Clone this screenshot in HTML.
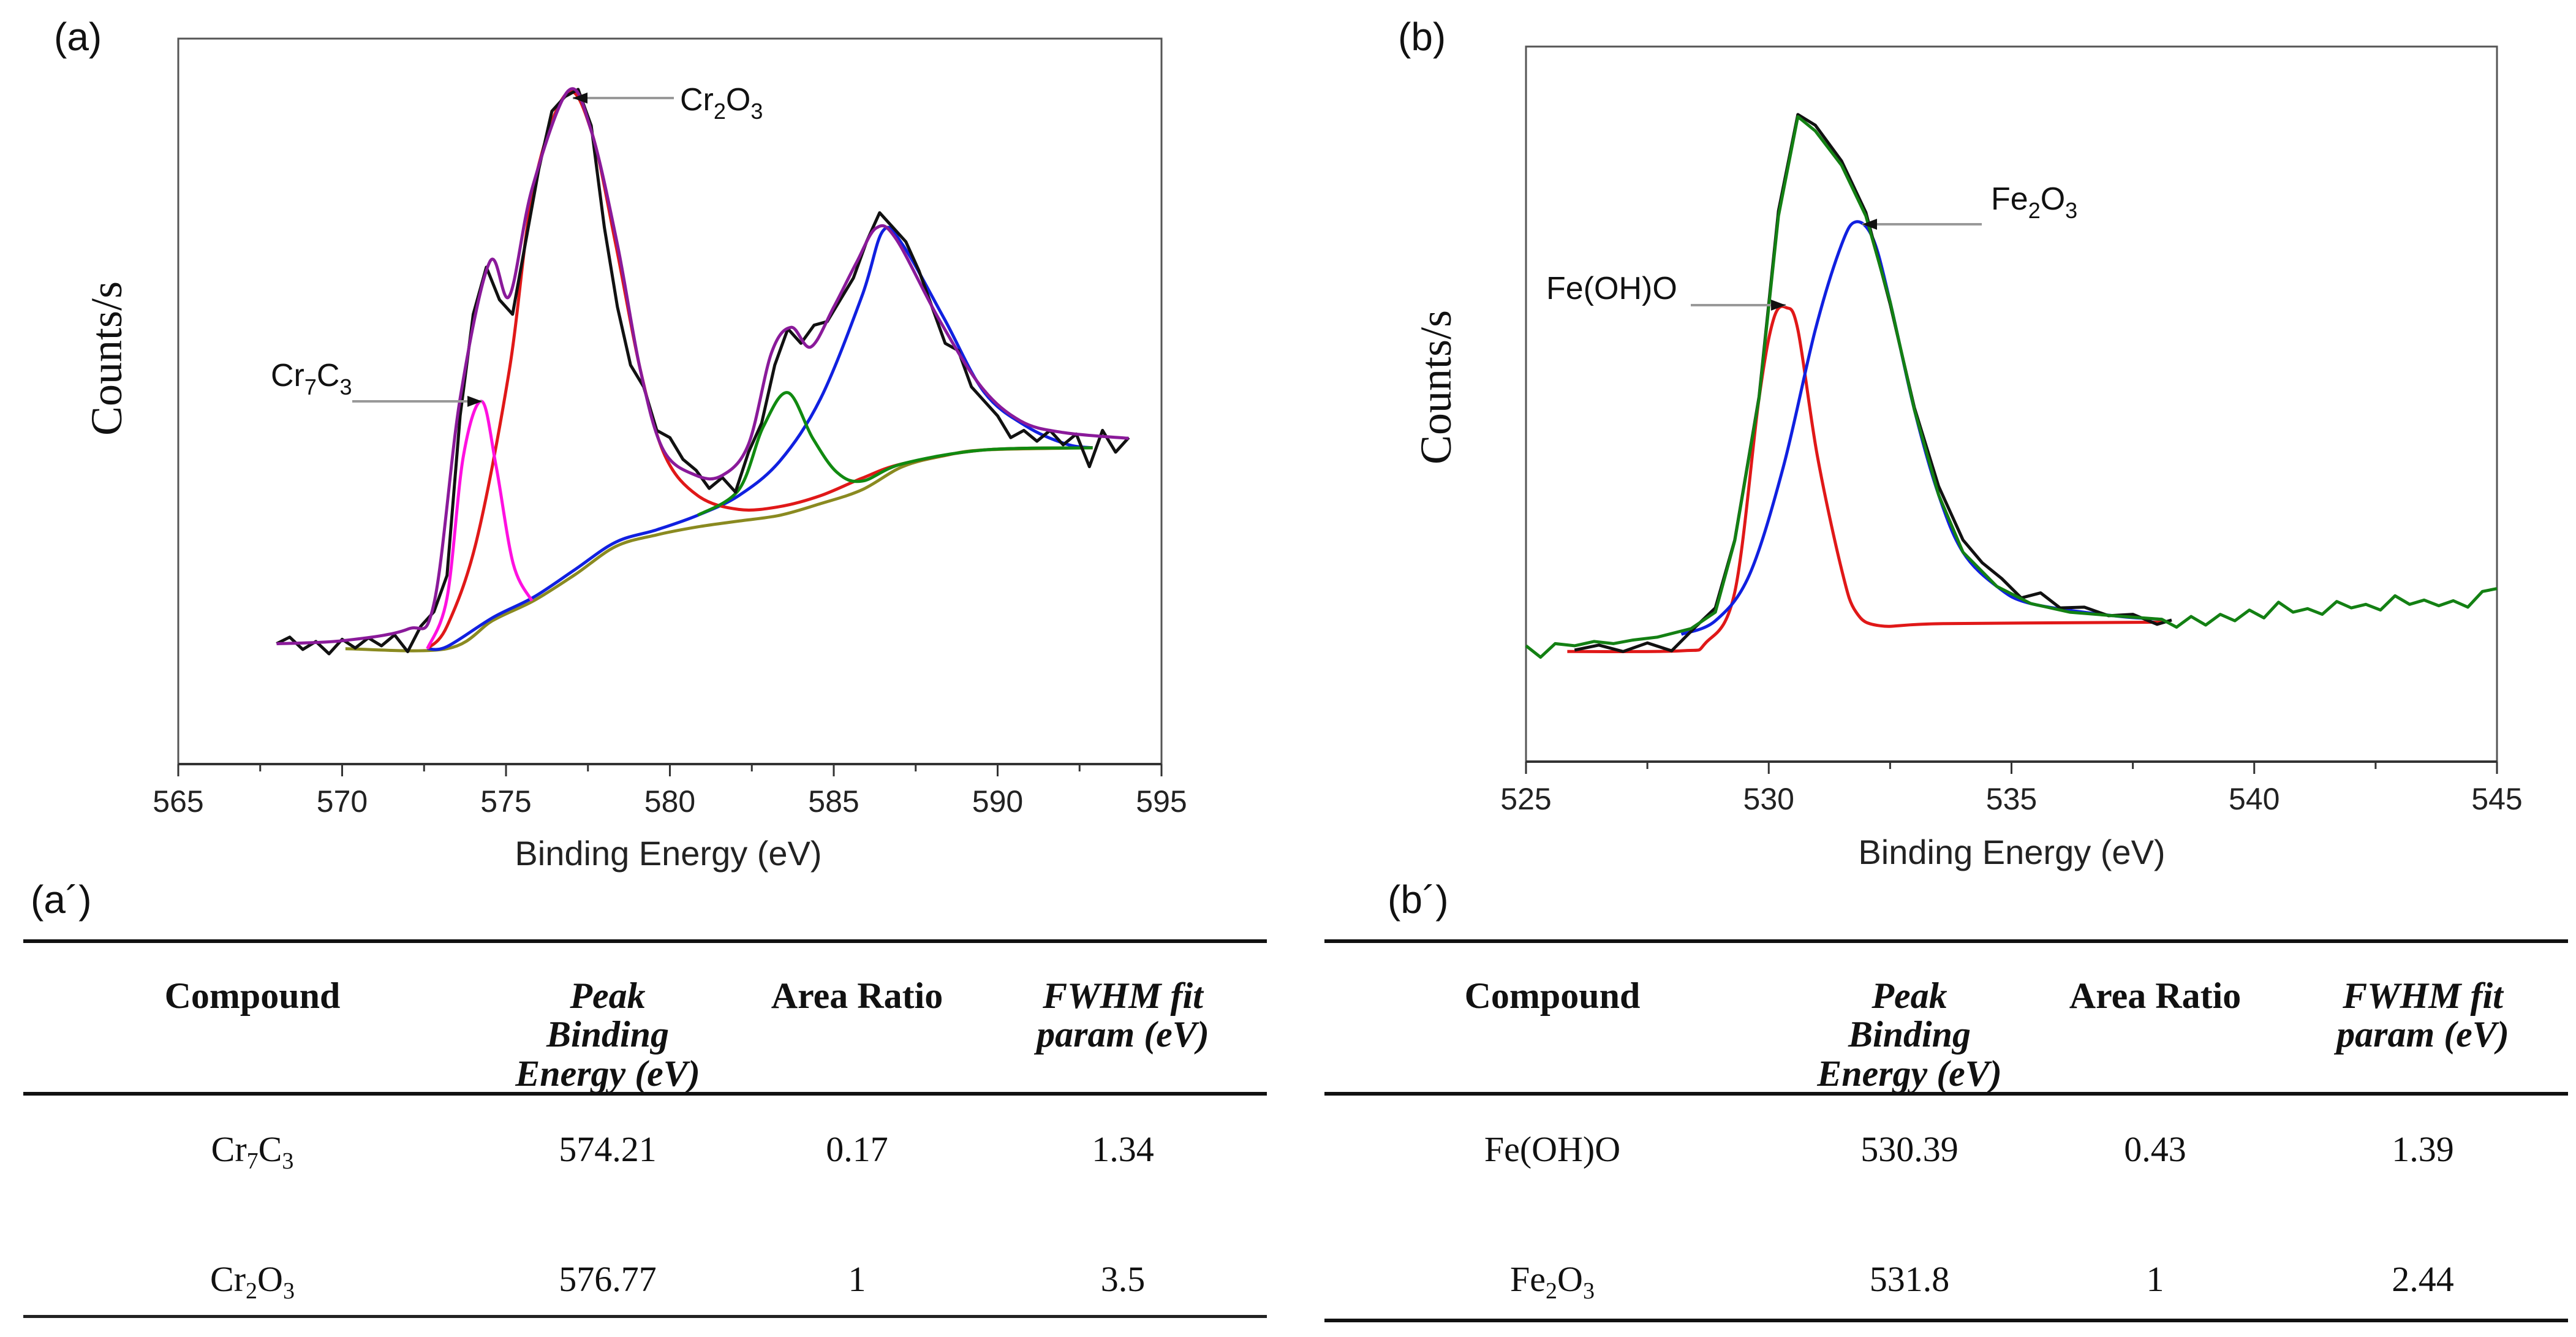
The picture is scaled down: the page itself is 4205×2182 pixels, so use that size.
<!DOCTYPE html>
<html><head><meta charset="utf-8"><style>
html,body{margin:0;padding:0;background:#fff}
svg{display:block}
.tk{font-family:"Liberation Sans",sans-serif;font-size:50px;fill:#222}
.ann{font-family:"Liberation Sans",sans-serif;font-size:52px;fill:#111}
.ttl{font-family:"Liberation Sans",sans-serif;font-size:56px;fill:#222}
.yt{font-family:"Liberation Serif",serif;font-size:72px;fill:#111}
.pl{font-family:"Liberation Sans",sans-serif;font-size:64px;fill:#111}
.th{font-family:"Liberation Serif",serif;font-size:60px;font-weight:bold;fill:#111}
.thi{font-family:"Liberation Serif",serif;font-size:60px;font-weight:bold;font-style:italic;fill:#111}
.td{font-family:"Liberation Serif",serif;font-size:58px;fill:#111}
</style></head><body>
<svg id="fig" width="4205" height="2182" viewBox="0 0 4205 2182" xmlns="http://www.w3.org/2000/svg">
<g id="chartA"></g>
<g id="chartB"></g>
<g id="tables">
 <text class="pl" x="50" y="1490">(a´)</text>
 <text class="pl" x="2265" y="1490">(b´)</text>
 <g>
  <rect x="38" y="1533" width="2030" height="6" fill="#111"/>
  <rect x="38" y="1782" width="2030" height="6" fill="#111"/>
  <rect x="38" y="2146" width="2030" height="5" fill="#222"/>
  <text class="th" x="412" y="1645" text-anchor="middle">Compound</text>
  <text class="thi" x="992" y="1645" text-anchor="middle">Peak</text>
  <text class="thi" x="992" y="1708" text-anchor="middle">Binding</text>
  <text class="thi" x="992" y="1772" text-anchor="middle">Energy (eV)</text>
  <text class="th" x="1399" y="1645" text-anchor="middle">Area Ratio</text>
  <text class="thi" x="1833" y="1645" text-anchor="middle">FWHM fit</text>
  <text class="thi" x="1833" y="1708" text-anchor="middle">param (eV)</text>
  <text class="td" x="412" y="1895" text-anchor="middle">Cr<tspan font-size="38" dy="12">7</tspan><tspan dy="-12">C</tspan><tspan font-size="38" dy="12">3</tspan></text>
  <text class="td" x="992" y="1895" text-anchor="middle">574.21</text>
  <text class="td" x="1399" y="1895" text-anchor="middle">0.17</text>
  <text class="td" x="1833" y="1895" text-anchor="middle">1.34</text>
  <text class="td" x="412" y="2107" text-anchor="middle">Cr<tspan font-size="38" dy="12">2</tspan><tspan dy="-12">O</tspan><tspan font-size="38" dy="12">3</tspan></text>
  <text class="td" x="992" y="2107" text-anchor="middle">576.77</text>
  <text class="td" x="1399" y="2107" text-anchor="middle">1</text>
  <text class="td" x="1833" y="2107" text-anchor="middle">3.5</text>
 </g>
 <g>
  <rect x="2162" y="1533" width="2030" height="6" fill="#111"/>
  <rect x="2162" y="1782" width="2030" height="6" fill="#111"/>
  <rect x="2162" y="2152" width="2030" height="6" fill="#111"/>
  <text class="th" x="2534" y="1645" text-anchor="middle">Compound</text>
  <text class="thi" x="3117" y="1645" text-anchor="middle">Peak</text>
  <text class="thi" x="3117" y="1708" text-anchor="middle">Binding</text>
  <text class="thi" x="3117" y="1772" text-anchor="middle">Energy (eV)</text>
  <text class="th" x="3518" y="1645" text-anchor="middle">Area Ratio</text>
  <text class="thi" x="3955" y="1645" text-anchor="middle">FWHM fit</text>
  <text class="thi" x="3955" y="1708" text-anchor="middle">param (eV)</text>
  <text class="td" x="2534" y="1895" text-anchor="middle">Fe(OH)O</text>
  <text class="td" x="3117" y="1895" text-anchor="middle">530.39</text>
  <text class="td" x="3518" y="1895" text-anchor="middle">0.43</text>
  <text class="td" x="3955" y="1895" text-anchor="middle">1.39</text>
  <text class="td" x="2534" y="2107" text-anchor="middle">Fe<tspan font-size="38" dy="12">2</tspan><tspan dy="-12">O</tspan><tspan font-size="38" dy="12">3</tspan></text>
  <text class="td" x="3117" y="2107" text-anchor="middle">531.8</text>
  <text class="td" x="3518" y="2107" text-anchor="middle">1</text>
  <text class="td" x="3955" y="2107" text-anchor="middle">2.44</text>
 </g>
</g>
</svg>
<script>
// ---------- Chart (a) data: Cr 2p ----------
const aTicks = [565,570,575,580,585,590,595];
const aRawX = [568,568.4,568.8,569.2,569.6,570,570.4,570.8,571.2,571.6,572,572.4,572.8,573.2,573.6,574,574.4,574.8,575.2,575.6,576,576.4,576.8,577.2,577.6,578,578.4,578.8,579.2,579.6,580,580.4,580.8,581.2,581.6,582,582.4,582.8,583.2,583.6,584,584.4,584.8,585.2,585.6,586,586.4,586.8,587.2,587.6,588,588.4,588.8,589.2,589.6,590,590.4,590.8,591.2,591.6,592,592.4,592.8,593.2,593.6,594];
const aRawY = [16.6,17.5,15.8,16.9,15.2,17.2,16.0,17.4,16.3,17.8,15.5,19.0,21.0,26,48,62,68.5,64,62,72,82,90,92,93,88,74,63,55,52,46,45,42,40.5,38,39.5,37.5,43,47,55,60,58,60.5,61,64,67,72,76,74,72,68,63,58,57,52,50,48,45,46,44.5,46,44,45.5,41,46,43,45];
const aEnvX = [568,570,572,572.8,573.6,574.5,575.1,575.8,576.9,577.6,578.4,579.1,579.8,580.8,581.6,582.4,583.1,583.7,584.3,585,585.7,586.3,586.9,588.2,589.5,590.7,592,594];
const aEnvY = [16.6,17,18.6,22.1,50.4,69.2,64.5,79.4,92.8,87.3,71.6,54.3,43.3,39.8,39.8,44.1,56.7,60.2,57.5,63,69.2,73.9,72.4,61.4,52,47.3,45.7,44.9];
const aBgX = [570.1,573.2,574.6,575.84,577.1,578.35,579.6,580.85,582.1,583.36,584.6,585.86,587.1,588.37,589.6,592.9];
const aBgY = [15.9,15.9,19.8,22.5,26.1,30,31.6,32.7,33.5,34.3,35.9,37.8,41,42.5,43.3,43.6];
const aBlueX = [572.6,573.2,574.6,575.84,577.1,578.35,579.6,580.85,582.1,583.36,584.6,585.86,586.5,587.1,588.37,589.6,590.9,592.1,592.9];
const aBlueY = [15.9,16.2,20.2,23.0,26.8,30.6,32.3,34.3,37,41.8,50.4,64.5,73.5,71.6,61.4,51.2,46.5,44.1,43.6];
const aRedX = [572.6,573.2,574.1,575.1,575.84,576.84,577.6,578.35,579.1,579.85,580.85,582.1,583.36,584.6,585.86,587.1,589.6,592.9];
const aRedY = [15.9,19,30.8,54.3,79.4,92.4,87.3,71.6,54.3,42.5,37,35.1,35.5,37,39.4,41.4,43.3,43.6];
const aMagX = [572.6,573.2,573.7,574.26,574.7,575.22,575.79];
const aMagY = [15.9,22.9,42.5,50,41,27.6,22.5];
const aGreenX = [580.85,582.1,582.85,583.6,584.36,585.1,585.86,587.1,589.6,592.9];
const aGreenY = [34.3,37.8,46.5,51.2,44.9,40.2,39,41.4,43.3,43.6];

// ---------- Chart (b) data: O 1s ----------
const bTicks = [525,530,535,540,545];
const bEnvX = [525,525.3,525.6,526,526.4,526.8,527.2,527.7,528.4,528.9,529.3,529.8,530.2,530.6,530.96,531.5,532,532.5,533,533.5,534,534.7,535.4,536.2,537.1,538.1,538.4,538.7,539,539.3,539.6,539.9,540.2,540.5,540.8,541.1,541.4,541.7,542,542.3,542.6,542.9,543.2,543.5,543.8,544.1,544.4,544.7,545];
const bEnvY = [16.2,14.6,16.5,16.2,16.8,16.5,17.0,17.4,18.6,20.9,30.9,50.8,76.3,90.2,88.2,83.4,76.3,64.3,49.2,37.3,29.3,24.5,22.1,20.9,20.4,19.9,18.8,20.3,19.1,20.6,19.7,21.2,20.1,22.3,20.9,21.4,20.6,22.4,21.5,22.0,21.2,23.2,22.0,22.6,21.8,22.5,21.6,23.8,24.2];
const bRawX = [526,526.5,527,527.5,528,528.5,528.9,529.3,529.8,530.2,530.6,530.96,531.5,532,532.5,533,533.5,534,534.4,534.8,535.2,535.6,536,536.5,537,537.5,538,538.3];
const bRawY = [15.6,16.3,15.4,16.6,15.5,18.9,21.5,31,51,77,90.5,89,84,76.8,64,49.5,38.5,31,27.8,25.6,22.9,23.6,21.5,21.6,20.4,20.6,19.2,19.8];
const bBlueX = [528.2,528.9,529.6,530.3,530.96,531.5,531.8,532.15,532.5,533,533.5,534,534.7,535.4,537.1,538.1];
const bBlueY = [17.8,19.7,26.1,41.2,60.4,72.3,75.5,73.1,64.3,49.2,37.3,29.3,24.5,22.1,20.4,19.9];
const bRedX = [525.85,528.2,528.7,529.3,529.8,530.1,530.36,530.6,531,531.5,531.8,532.3,533.6,538.1];
const bRedY = [15.4,15.5,16.6,23.7,50.8,61.9,63.5,60.4,42.8,26.9,20.9,19,19.3,19.5];

const NS='http://www.w3.org/2000/svg';
function mk(tag, attrs, parent){const e=document.createElementNS(NS,tag);for(const k in attrs)e.setAttribute(k,attrs[k]);parent.appendChild(e);return e;}

function smoothPath(P){
  let d='M'+P[0][0].toFixed(1)+','+P[0][1].toFixed(1);
  for(let i=0;i<P.length-1;i++){
    const p0=P[Math.max(0,i-1)],p1=P[i],p2=P[i+1],p3=P[Math.min(P.length-1,i+2)];
    const c1x=p1[0]+(p2[0]-p0[0])/6,c1y=p1[1]+(p2[1]-p0[1])/6;
    const c2x=p2[0]-(p3[0]-p1[0])/6,c2y=p2[1]-(p3[1]-p1[1])/6;
    d+=' C'+c1x.toFixed(1)+','+c1y.toFixed(1)+' '+c2x.toFixed(1)+','+c2y.toFixed(1)+' '+p2[0].toFixed(1)+','+p2[1].toFixed(1);
  }
  return d;
}

function drawChart(g, cfg){
  const sx = v => cfg.left + (v-cfg.xmin)/(cfg.xmax-cfg.xmin)*(cfg.right-cfg.left);
  const sy = v => cfg.bottom - v/100*(cfg.bottom-cfg.top);
  const frame = mk('rect',{x:cfg.left,y:cfg.top,width:cfg.right-cfg.left,height:cfg.bottom-cfg.top,fill:'none',stroke:'#555','stroke-width':3},g);
  
  
  const ax = mk('line',{x1:cfg.left,y1:cfg.bottom,x2:cfg.right,y2:cfg.bottom,stroke:'#333','stroke-width':4},g);
  
  
  cfg.ticks.forEach((t,i)=>{
    const tl = mk('line',{x1:sx(t),y1:cfg.bottom,x2:sx(t),y2:cfg.bottom+20,stroke:'#333','stroke-width':3},g);
    
    
    if(i<cfg.ticks.length-1){
      const m=(t+cfg.ticks[i+1])/2;
      const ml = mk('line',{x1:sx(m),y1:cfg.bottom,x2:sx(m),y2:cfg.bottom+12,stroke:'#333','stroke-width':3},g);
      
      
    }
    const tx = mk('text',{x:sx(t),y:cfg.bottom+78,class:'tk','text-anchor':'middle'},g);
    tx.textContent=t;
    
    
  });
  cfg.series.forEach(s=>{
    const P = s.x.map((v,i)=>[sx(v),sy(s.y[i])]);
    let p;
    if(s.smooth){
      p = mk('path',{d:smoothPath(P),fill:'none',stroke:s.c,'stroke-width':5,'stroke-linejoin':'round'},g);
    } else {
      p = mk('polyline',{points:P.map(q=>q[0].toFixed(1)+','+q[1].toFixed(1)).join(' '),fill:'none',stroke:s.c,'stroke-width':5,'stroke-linejoin':'round'},g);
    }
    
    
  });
  return {sx,sy};
}

const gA=document.getElementById('chartA');
drawChart(gA,{left:291,right:1896,top:63,bottom:1247,xmin:565,xmax:595,ticks:aTicks,series:[
  {x:aBgX,y:aBgY,c:'#8a8a20',name:'background-curve',smooth:true},
  {x:aBlueX,y:aBlueY,c:'#1020e0',name:'cr2o3-satellite-fit',smooth:true},
  {x:aRedX,y:aRedY,c:'#e01818',name:'cr2o3-fit',smooth:true},
  {x:aMagX,y:aMagY,c:'#ff10e0',name:'cr7c3-fit',smooth:true},
  {x:aGreenX,y:aGreenY,c:'#108a10',name:'green-fit',smooth:true},
  {x:aRawX,y:aRawY,c:'#111',name:'raw-spectrum'},
  {x:aEnvX,y:aEnvY,c:'#8a1a9a',name:'envelope-fit',smooth:true}
]});
const gB=document.getElementById('chartB');
drawChart(gB,{left:2491,right:4076,top:76,bottom:1243,xmin:525,xmax:545,ticks:bTicks,series:[
  {x:bRedX,y:bRedY,c:'#e01818',name:'feoho-fit',smooth:true},
  {x:bBlueX,y:bBlueY,c:'#1020e0',name:'fe2o3-fit',smooth:true},
  {x:bRawX,y:bRawY,c:'#111',name:'raw-spectrum'},
  {x:bEnvX,y:bEnvY,c:'#138013',name:'envelope-fit'}
]});

function addText(g,cls,x,y,html,name,extra){
  const t=mk('text',Object.assign({x:x,y:y,class:cls},extra||{}),g);
  t.innerHTML=html;
  
  
  return t;
}
function addLeader(g,x1,x2,y,name){
  const l=mk('line',{x1:x1,y1:y,x2:x2,y2:y,stroke:'#999','stroke-width':4},g);
  
  
  const a=mk('polygon',{points:(x2)+','+y+' '+(x2-24)+','+(y-9)+' '+(x2-24)+','+(y+9),fill:'#111'},g);
  
  
}
function addLeaderL(g,x1,x2,y,name){
  const l=mk('line',{x1:x1,y1:y,x2:x2,y2:y,stroke:'#999','stroke-width':4},g);
  
  
  const a=mk('polygon',{points:(x1)+','+y+' '+(x1+24)+','+(y-9)+' '+(x1+24)+','+(y+9),fill:'#111'},g);
  
  
}
addText(gA,'pl',88,82,'(a)','panel-label-a');
addText(gA,'yt',0,0,'Counts/s','y-axis-title',{transform:'translate(198,585) rotate(-90)','text-anchor':'middle'});
addText(gA,'ttl',1091,1412,'Binding Energy (eV)','x-axis-title',{'text-anchor':'middle'});
addLeaderL(gA,935,1100,160,'cr2o3-leader');
addText(gA,'ann',1110,180,'Cr<tspan font-size="36" dy="14">2</tspan><tspan dy="-14">O</tspan><tspan font-size="36" dy="14">3</tspan>','cr2o3-label');
addLeader(gA,575,787,655,'cr7c3-leader');
addText(gA,'ann',442,630,'Cr<tspan font-size="36" dy="14">7</tspan><tspan dy="-14">C</tspan><tspan font-size="36" dy="14">3</tspan>','cr7c3-label');
addText(gB,'pl',2282,82,'(b)','panel-label-b');
addText(gB,'yt',0,0,'Counts/s','y-axis-title',{transform:'translate(2368,632) rotate(-90)','text-anchor':'middle'});
addText(gB,'ttl',3284,1410,'Binding Energy (eV)','x-axis-title',{'text-anchor':'middle'});
addLeaderL(gB,3040,3235,366,'fe2o3-leader');
addText(gB,'ann',3250,342,'Fe<tspan font-size="36" dy="14">2</tspan><tspan dy="-14">O</tspan><tspan font-size="36" dy="14">3</tspan>','fe2o3-label');
addLeader(gB,2760,2915,498,'feoho-leader');
addText(gB,'ann',2524,488,'Fe(OH)O','feoho-label');
</script>
</body></html>
